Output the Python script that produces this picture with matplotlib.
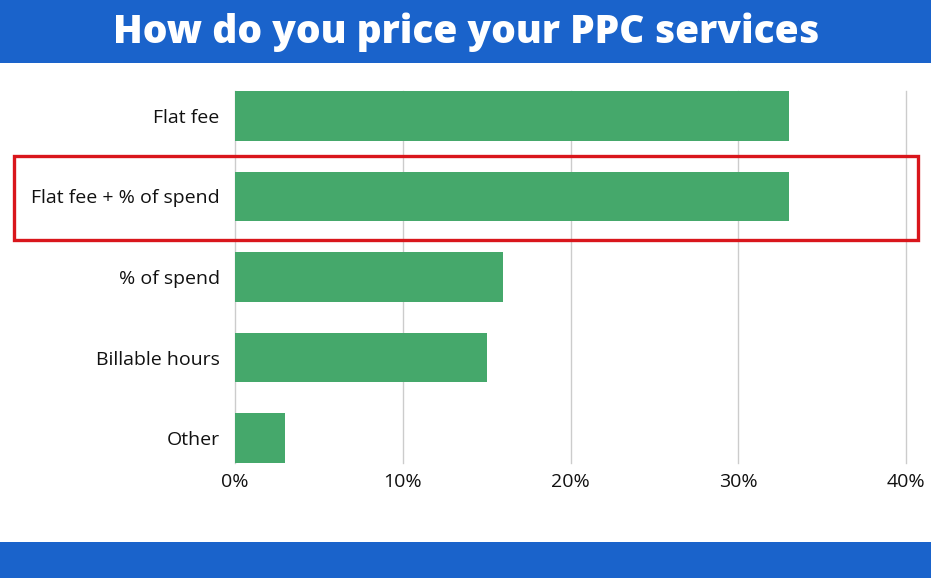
import matplotlib
matplotlib.use("Agg")
import matplotlib.pyplot as plt
import matplotlib.patches as patches

categories = ["Flat fee", "Flat fee + % of spend", "% of spend", "Billable hours", "Other"]
shares = [33, 33, 16, 15, 3]
xticks = [0, 10, 20, 30, 40]

BLUE = "#1A63CB"
GREEN = "#45A86B"
RED = "#D9161C"

plt.rcParams["font.family"] = ["Open Sans", "DejaVu Sans"]

W, H = 931, 578
fig = plt.figure(figsize=(W / 100, H / 100), dpi=100)
fig.patch.set_facecolor("white")

# ── banners ──
fig.add_artist(patches.Rectangle((0, 1 - 63 / H), 1, 63 / H, transform=fig.transFigure,
                                 facecolor=BLUE, edgecolor="none", zorder=0))
fig.add_artist(patches.Rectangle((0, 0), 1, 36 / H, transform=fig.transFigure,
                                 facecolor=BLUE, edgecolor="none", zorder=0))
fig.text(466 / W, 1 - 32 / H, "How do you price your PPC services", color="white",
         fontsize=28, fontweight=800, ha="center", va="center")

# ── bars ──
ax = fig.add_axes([235 / W, (H - 463) / H, 671 / W, 372 / H])
ax.barh(range(len(categories)), shares, height=0.62, color=GREEN, zorder=2)
ax.set_ylim(4.31, -0.31)
ax.set_xlim(0, 40)
ax.set_xticks(xticks)
ax.set_xticklabels([f"{t}%" for t in xticks])
ax.set_yticks(range(len(categories)))
ax.set_yticklabels(categories)
ax.tick_params(axis="both", length=0, labelsize=14, colors="#111111")
ax.tick_params(axis="y", pad=11)
ax.tick_params(axis="x", pad=7)
for s in ax.spines.values():
    s.set_visible(False)
ax.grid(axis="x", color="#cccccc", linewidth=1, zorder=0)
for gl in ax.get_xgridlines():
    gl.set_clip_on(False)
ax.set_axisbelow(True)

# ── highlight box ──
fig.add_artist(patches.Rectangle((14 / W, 1 - 240 / H), 904 / W, 84 / H,
                                 transform=fig.transFigure, facecolor="none",
                                 edgecolor=RED, linewidth=2.4, zorder=5))

plt.savefig("out.png", dpi=100)
